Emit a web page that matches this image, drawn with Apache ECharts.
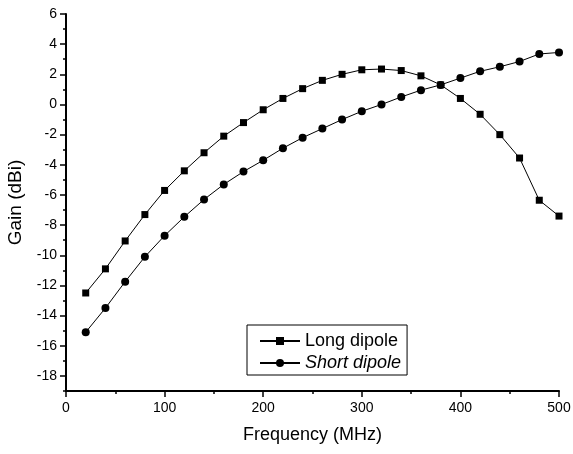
<!DOCTYPE html>
<html>
<head>
<meta charset="utf-8">
<script src="https://cdn.jsdelivr.net/npm/echarts@6/dist/echarts.min.js"></script>
<style>
  html, body { margin: 0; padding: 0; background: #fff; }
  #chart { width: 573px; height: 454px; }
</style>
</head>
<body>
<div id="chart"></div>
<script>
// frequency points (MHz)
var freqs = [20, 40, 60, 80, 100, 120, 140, 160, 180, 200, 220, 240, 260,
             280, 300, 320, 340, 360, 380, 400, 420, 440, 460, 480, 500];

// gain (dBi)
var longDipole = [-12.5, -10.9, -9.05, -7.3, -5.7, -4.4, -3.2, -2.1, -1.2, -0.35,
                  0.4, 1.05, 1.6, 2.0, 2.3, 2.35, 2.25, 1.9, 1.3, 0.4,
                  -0.65, -2.0, -3.55, -6.35, -7.4];
var shortDipole = [-15.1, -13.5, -11.75, -10.1, -8.7, -7.45, -6.3, -5.3, -4.45, -3.7,
                   -2.9, -2.2, -1.6, -1.0, -0.45, 0.0, 0.5, 0.95, 1.3, 1.75,
                   2.2, 2.5, 2.85, 3.35, 3.45];

var yLabels = [-18, -16, -14, -12, -10, -8, -6, -4, -2, 0, 2, 4, 6];
var yMinor = [-19, -17, -15, -13, -11, -9, -7, -5, -3, -1, 1, 3, 5];

function pairs(xs, ys) {
    return xs.map(function (x, i) { return [x, ys[i]]; });
}

var font = 'Liberation Sans, Arial, sans-serif';
var chart = echarts.init(document.getElementById('chart'), null, { renderer: 'canvas' });

var option = {
    animation: false,
    backgroundColor: '#fff',
    textStyle: { fontFamily: font, color: '#000' },
    grid: { left: 66, right: 14, top: 14, bottom: 63, containLabel: false, outerBoundsMode: 'none' },
    legend: {
        orient: 'vertical',
        left: 247,
        top: 325,
        itemWidth: 40,
        itemHeight: 10,
        itemGap: 4,
        padding: [7, 6, 3, 12],
        borderColor: '#000',
        borderWidth: 1,
        borderRadius: 0,
        textStyle: { fontFamily: font, fontSize: 18, color: '#000', lineHeight: 18 },
        data: [
            { name: 'Long dipole' },
            { name: 'Short dipole', textStyle: { fontStyle: 'italic' } }
        ]
    },
    xAxis: {
        type: 'value',
        min: 0,
        max: 500,
        interval: 100,
        name: 'Frequency (MHz)',
        nameLocation: 'middle',
        nameGap: 35,
        nameTextStyle: { fontFamily: font, fontSize: 18, color: '#000' },
        axisLine: { onZero: false, lineStyle: { color: '#000', width: 2 } },
        axisTick: { inside: false, length: 6, lineStyle: { color: '#000', width: 1.5 } },
        minorTick: { show: true, splitNumber: 2, length: 3, lineStyle: { color: '#000', width: 1.5 } },
        axisLabel: { fontFamily: font, fontSize: 14, color: '#000', margin: 10 },
        splitLine: { show: false }
    },
    yAxis: [{
        type: 'value',
        min: -19,
        max: 6,
        name: 'Gain (dBi)',
        nameLocation: 'middle',
        nameGap: 41,
        nameTextStyle: { fontFamily: font, fontSize: 19, color: '#000' },
        axisLine: { onZero: false, lineStyle: { color: '#000', width: 2 } },
        axisTick: { customValues: yLabels, length: 6, lineStyle: { color: '#000', width: 1.5 } },
        axisLabel: { customValues: yLabels, fontFamily: font, fontSize: 14, color: '#000', margin: 9 },
        splitLine: { show: false }
    }, {
        type: 'value',
        min: -19,
        max: 6,
        position: 'left',
        axisLine: { show: false, onZero: false },
        axisTick: { customValues: yMinor, length: 3, lineStyle: { color: '#000', width: 1.5 } },
        axisLabel: { show: false },
        splitLine: { show: false }
    }],
    series: [{
        name: 'Long dipole',
        type: 'line',
        yAxisIndex: 0,
        data: pairs(freqs, longDipole),
        symbol: 'rect',
        symbolSize: 7,
        itemStyle: { color: '#000' },
        lineStyle: { color: '#000', width: 1 }
    }, {
        name: 'Short dipole',
        type: 'line',
        yAxisIndex: 0,
        data: pairs(freqs, shortDipole),
        symbol: 'circle',
        symbolSize: 8,
        itemStyle: { color: '#000' },
        lineStyle: { color: '#000', width: 1 }
    }]
};

chart.setOption(option);
</script>
</body>
</html>
